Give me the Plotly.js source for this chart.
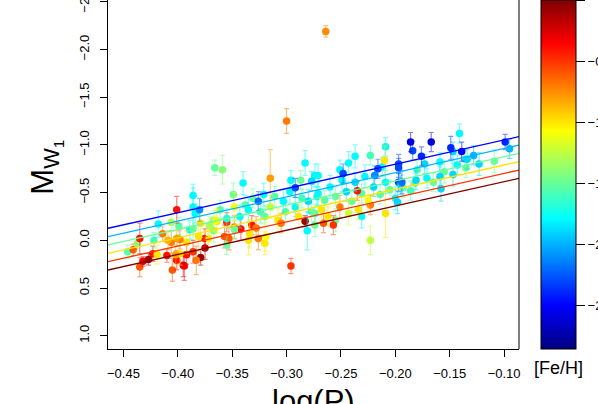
<!DOCTYPE html>
<html>
<head>
<meta charset="utf-8">
<script src="https://cdn.plot.ly/plotly-3.0.1.min.js"></script>
<style>
  body { margin: 0; background: #fff; }
  #graph { width: 598px; height: 404px; }
</style>
</head>
<body>
<div id="graph"></div>
<script>
// one entry per star: log(P), M_W1, [Fe/H], sigma(M_W1)
const logP = [
  -0.446, -0.441, -0.437, -0.435, -0.432, -0.427, -0.435, -0.423, -0.422, -0.418,
  -0.419, -0.414, -0.409, -0.406, -0.406, -0.410, -0.405, -0.401, -0.401, -0.399,
  -0.398, -0.395, -0.398, -0.401, -0.402, -0.386, -0.386, -0.384, -0.380, -0.389,
  -0.386, -0.392, -0.386, -0.383, -0.379, -0.375, -0.379, -0.381, -0.375, -0.372,
  -0.394, -0.392, -0.367, -0.367, -0.371, -0.366, -0.359, -0.340, -0.365, -0.355,
  -0.353, -0.355, -0.342, -0.334, -0.326, -0.319, -0.315, -0.300, -0.264, -0.296,
  -0.292, -0.283, -0.271, -0.287, -0.277, -0.251, -0.243, -0.248, -0.223, -0.216,
  -0.283, -0.281, -0.257, -0.274, -0.223, -0.296, -0.186, -0.209, -0.210, -0.184,
  -0.197, -0.219, -0.197, -0.200, -0.209, -0.223, -0.235, -0.274, -0.167, -0.141,
  -0.149, -0.139, -0.147, -0.176, -0.128, -0.134, -0.136, -0.123, -0.109, -0.135,
  -0.143, -0.099, -0.095, -0.159, -0.173, -0.180, -0.155, -0.159, -0.147, -0.171,
  -0.165, -0.158, -0.181, -0.186, -0.195, -0.198, -0.193, -0.364, -0.361, -0.355,
  -0.349, -0.348, -0.343, -0.338, -0.335, -0.331, -0.326, -0.324, -0.321, -0.320,
  -0.315, -0.311, -0.308, -0.303, -0.301, -0.297, -0.292, -0.289, -0.286, -0.280,
  -0.277, -0.272, -0.348, -0.332, -0.328, -0.305, -0.357, -0.335, -0.320, -0.348,
  -0.271, -0.265, -0.260, -0.255, -0.249, -0.245, -0.240, -0.237, -0.231, -0.228,
  -0.225, -0.220, -0.214, -0.209, -0.205, -0.194, -0.182, -0.268, -0.262, -0.251,
  -0.243, -0.234, -0.274, -0.266, -0.255, -0.231, -0.212, -0.197, -0.237
];
const mW1 = [
  0.12, 0.10, 0.03, -0.02, 0.22, 0.20, 0.28, 0.14, 0.00, -0.17,
  0.15, -0.07, 0.00, 0.02, -0.19, 0.16, 0.31, -0.32, 0.21, -0.15,
  0.14, 0.26, -0.01, -0.02, 0.15, -0.35, -0.47, -0.28, -0.32, -0.11,
  -0.12, 0.15, 0.12, 0.21, 0.18, 0.08, -0.18, -0.04, -0.02, -0.02,
  0.27, 0.02, -0.21, -0.10, -0.15, -0.76, -0.74, -0.60, -0.21, -0.19,
  -0.02, 0.05, -0.12, -0.07, -0.02, -0.04, -0.65, -1.25, -2.19, -0.63,
  -0.55, -0.81, -0.68, -0.63, -0.62, -0.74, -0.81, -0.70, -0.89, -0.75,
  -0.20, -0.10, -0.16, -0.16, 0.00, 0.27, -1.03, -0.98, -0.84, -0.94,
  -0.80, -0.68, -0.61, -0.44, -0.28, -0.37, -0.52, -0.68, -1.03, -1.12,
  -0.97, -0.93, -0.93, -0.88, -0.89, -0.85, -0.85, -0.80, -0.83, -0.76,
  -0.79, -1.03, -0.96, -0.82, -0.80, -0.74, -0.72, -0.67, -0.69, -0.65,
  -0.61, -0.54, -0.63, -0.52, -0.58, -0.40, -0.55, -0.20, -0.32, -0.23,
  -0.48, -0.35, -0.25, -0.37, -0.32, -0.44, -0.41, -0.30, -0.48, -0.25,
  -0.35, -0.46, -0.21, -0.41, -0.30, -0.51, -0.35, -0.25, -0.44, -0.41,
  -0.30, -0.46, -0.14, -0.16, -0.13, -0.18, -0.04, 0.00, 0.03, -0.11,
  -0.49, -0.42, -0.56, -0.46, -0.63, -0.51, -0.41, -0.61, -0.49, -0.67,
  -0.42, -0.56, -0.48, -0.61, -0.53, -0.61, -0.60, -0.32, -0.25, -0.35,
  -0.28, -0.32, -0.28, -0.18, -0.21, -0.25, -0.77, -0.76, -0.88
];
const feh = [
  -1.55, -0.6, -1.4, -0.4, -0.3, -0.1, -0.6, -0.4, -1.6, -1.8,
  -1.0, -0.7, -0.85, -0.7, -1.3, -0.4, -0.6, -0.4, -0.4, -1.55,
  -1.0, -0.3, -0.7, -0.8, -0.8, -1.8, -1.8, -1.8, -2.1, -1.8,
  -1.5, -0.4, -0.5, -0.7, -0.1, -0.2, -1.0, -1.0, -0.4, -1.0,
  -0.4, -1.0, -1.4, -1.4, -1.3, -1.5, -1.4, -1.8, -1.1, -0.5,
  -0.6, -1.5, -0.4, -1.0, -0.7, -1.1, -0.8, -0.7, -0.75, -1.8,
  -2.3, -1.8, -1.8, -1.5, -1.9, -1.8, -1.8, -2.3, -1.6, -2.3,
  -0.1, -1.8, -0.5, -1.5, -1.25, -0.5, -2.6, -1.8, -1.0, -2.3,
  -2.3, -2.1, -2.3, -1.8, -1.0, -0.7, -0.4, -1.8, -2.6, -1.8,
  -2.4, -2.5, -1.9, -2.4, -2.0, -1.9, -1.6, -1.9, -1.5, -1.5,
  -1.8, -2.4, -2.0, -1.8, -1.9, -1.6, -1.5, -1.9, -1.9, -1.8,
  -1.5, -1.9, -1.9, -1.6, -1.9, -1.9, -1.55, -1.0, -1.55, -1.7,
  -1.5, -1.1, -1.8, -1.55, -1.8, -1.5, -2.2, -1.6, -1.8, -1.5,
  -1.25, -1.55, -1.0, -1.8, -1.55, -1.8, -1.8, -1.0, -1.6, -1.9,
  -1.5, -1.8, -0.7, -0.4, -0.7, -0.7, -0.6, -1.0, -1.0, -1.5,
  -1.8, -1.55, -1.8, -1.5, -1.8, -1.9, -1.5, -1.9, -1.55, -1.8,
  -1.1, -1.9, -1.55, -1.8, -1.5, -2.2, -1.5, -1.0, -1.0, -0.7,
  -1.2, -1.0, -1.55, -0.6, -1.5, -1.8, -1.8, -2.3, -1.8
];
const errM = [
  0.07, 0.06, 0.08, 0.16, 0.05, 0.06, 0.10, 0.08, 0.08, 0.14,
  0.10, 0.08, 0.10, 0.12, 0.10, 0.07, 0.12, 0.14, 0.10, 0.09,
  0.12, 0.12, 0.10, 0.08, 0.10, 0.20, 0.12, 0.10, 0.12, 0.10,
  0.12, 0.10, 0.12, 0.15, 0.08, 0.12, 0.15, 0.15, 0.10, 0.10,
  0.15, 0.12, 0.10, 0.12, 0.10, 0.08, 0.15, 0.12, 0.12, 0.10,
  0.12, 0.10, 0.12, 0.15, 0.12, 0.15, 0.30, 0.13, 0.06, 0.10,
  0.10, 0.13, 0.12, 0.10, 0.10, 0.10, 0.12, 0.10, 0.10, 0.10,
  0.06, 0.20, 0.10, 0.12, 0.15, 0.08, 0.10, 0.10, 0.15, 0.10,
  0.10, 0.10, 0.10, 0.12, 0.25, 0.10, 0.10, 0.12, 0.10, 0.10,
  0.12, 0.10, 0.10, 0.10, 0.10, 0.10, 0.10, 0.12, 0.12, 0.10,
  0.10, 0.08, 0.10, 0.10, 0.10, 0.10, 0.12, 0.10, 0.12, 0.10,
  0.10, 0.13, 0.10, 0.10, 0.10, 0.12, 0.10, 0.12, 0.10, 0.10,
  0.12, 0.15, 0.12, 0.10, 0.12, 0.10, 0.10, 0.12, 0.12, 0.10,
  0.12, 0.10, 0.12, 0.12, 0.10, 0.12, 0.10, 0.12, 0.10, 0.12,
  0.10, 0.10, 0.12, 0.10, 0.12, 0.10, 0.12, 0.15, 0.12, 0.10,
  0.12, 0.10, 0.12, 0.10, 0.12, 0.10, 0.12, 0.10, 0.10, 0.12,
  0.12, 0.10, 0.10, 0.12, 0.10, 0.12, 0.10, 0.12, 0.10, 0.12,
  0.12, 0.10, 0.10, 0.10, 0.12, 0.12, 0.10, 0.10, 0.12
];

// PLZ relation M = a + b*logP + c*[Fe/H], drawn for these metallicities
const fitFeh = [-2.5, -2.0, -1.5, -1.0, -0.5, 0.0];
const fitCoef = [-0.868, -2.54, 0.175];

const xRange = [-0.4642, -0.0863];
const yRange = [1.139, -2.519];
const fehRange = [-2.86, 0];
const xTicks = [-0.45, -0.40, -0.35, -0.30, -0.25, -0.20, -0.15, -0.10];
const yTicks = [1.0, 0.5, 0.0, -0.5, -1.0, -1.5, -2.0, -2.5];
const cbTicks = [0, -0.5, -1.0, -1.5, -2.0, -2.5];

const jet = [
  [0, "#00007F"], [0.125, "#0000FF"], [0.375, "#00FFFF"],
  [0.625, "#FFFF00"], [0.875, "#FF0000"], [1, "#7F0000"]
];

const hexRgb = (h) => [1, 3, 5].map((i) => parseInt(h.substr(i, 2), 16));

// colour of a [Fe/H] value on the jet scale
const jetColor = (v, alpha) => {
  let t = (v - fehRange[0]) / (fehRange[1] - fehRange[0]);
  t = Math.min(1, Math.max(0, t));
  let k = 1;
  while (k < jet.length - 1 && jet[k][0] < t) k++;
  const [t0, c0] = jet[k - 1];
  const [t1, c1] = jet[k];
  const f = (t - t0) / (t1 - t0);
  const a = hexRgb(c0), b = hexRgb(c1);
  const rgb = a.map((x, i) => Math.round(x + (b[i] - x) * f));
  return "rgba(" + rgb.join(",") + "," + alpha + ")";
};

const font = "Liberation Sans, Arial, Helvetica, sans-serif";

// one trace per metallicity so that each error bar gets its own colour
const groups = {};
feh.forEach((f, i) => {
  (groups[f] = groups[f] || []).push(i);
});

const traces = [];
Object.keys(groups).forEach((key, n) => {
  const idx = groups[key];
  traces.push({
    x: idx.map((i) => logP[i]),
    y: idx.map((i) => mW1[i]),
    type: "scatter",
    mode: "markers",
    showlegend: false,
    hoverinfo: "skip",
    marker: {
      size: 7.5,
      color: idx.map((i) => feh[i]),
      colorscale: jet,
      cmin: fehRange[0],
      cmax: fehRange[1],
      line: { width: 0 },
      showscale: n === 0,
      colorbar: {
        thickness: 35,
        thicknessmode: "pixels",
        len: 1,
        lenmode: "fraction",
        x: 1.0535,
        xanchor: "left",
        xpad: 0,
        y: 0,
        yanchor: "bottom",
        ypad: 0,
        outlinewidth: 1,
        outlinecolor: "#000",
        ticks: "outside",
        ticklen: 9,
        tickwidth: 1,
        tickcolor: "#000",
        tickvals: cbTicks,
        tickformat: ".1f",
        tickfont: { family: font, size: 13, color: "#000" },
      },
    },
    error_y: {
      type: "data",
      array: idx.map((i) => errM[i]),
      color: jetColor(+key, 0.5),
      thickness: 1.2,
      width: 2.5,
    },
  });
});

// fitted lines across the full plot width
fitFeh.forEach((f) => {
  traces.push({
    x: xRange,
    y: xRange.map((x) => fitCoef[0] + fitCoef[1] * x + fitCoef[2] * f),
    type: "scatter",
    mode: "lines",
    showlegend: false,
    hoverinfo: "skip",
    line: { color: jetColor(f, 1), width: 1.3 },
  });
});

const layout = {
  width: 598,
  height: 404,
  margin: { l: 108, r: 79, t: 0, b: 55, autoexpand: false },
  paper_bgcolor: "#fff",
  plot_bgcolor: "#fff",
  showlegend: false,
  hovermode: false,
  font: { family: font, size: 13, color: "#000" },
  xaxis: {
    range: xRange,
    tickvals: xTicks,
    tickformat: ".2f",
    ticks: "outside",
    ticklen: 7,
    tickcolor: "#000",
    ticklabelstandoff: 5,
    showline: true,
    linecolor: "#000",
    linewidth: 1,
    showgrid: false,
    zeroline: false,
    tickfont: { family: font, size: 13 },
  },
  yaxis: {
    range: yRange,
    tickvals: yTicks,
    tickformat: ".1f",
    tickangle: -90,
    ticks: "outside",
    ticklen: 7,
    tickcolor: "#000",
    ticklabelstandoff: 6,
    ticklabeloverflow: "allow",
    showline: true,
    linecolor: "#000",
    linewidth: 1,
    showgrid: false,
    zeroline: false,
    tickfont: { family: font, size: 13 },
  },
  shapes: [
    // right side of the box; the top edge lies outside the picture
    { type: "line", xref: "paper", yref: "paper", x0: 1, x1: 1, y0: 0, y1: 1.05,
      line: { color: "#000", width: 1 } },
  ],
  annotations: [
    { text: "M<sub>W<sub>1</sub></sub>", xref: "paper", yref: "paper",
      x: -0.153, y: 0.52, textangle: -90, showarrow: false,
      xanchor: "center", yanchor: "middle", font: { family: font, size: 31 } },
    { text: "log(P)", xref: "paper", yref: "paper",
      x: 0.5, y: -0.095, showarrow: false,
      xanchor: "center", yanchor: "top", font: { family: font, size: 31 } },
    { text: "[Fe/H]", xref: "paper", yref: "paper",
      x: 1.095, y: -0.054, showarrow: false,
      xanchor: "center", yanchor: "middle", font: { family: font, size: 18 } },
  ],
};

Plotly.newPlot("graph", traces, layout, { staticPlot: true, displayModeBar: false });
</script>
</body>
</html>
